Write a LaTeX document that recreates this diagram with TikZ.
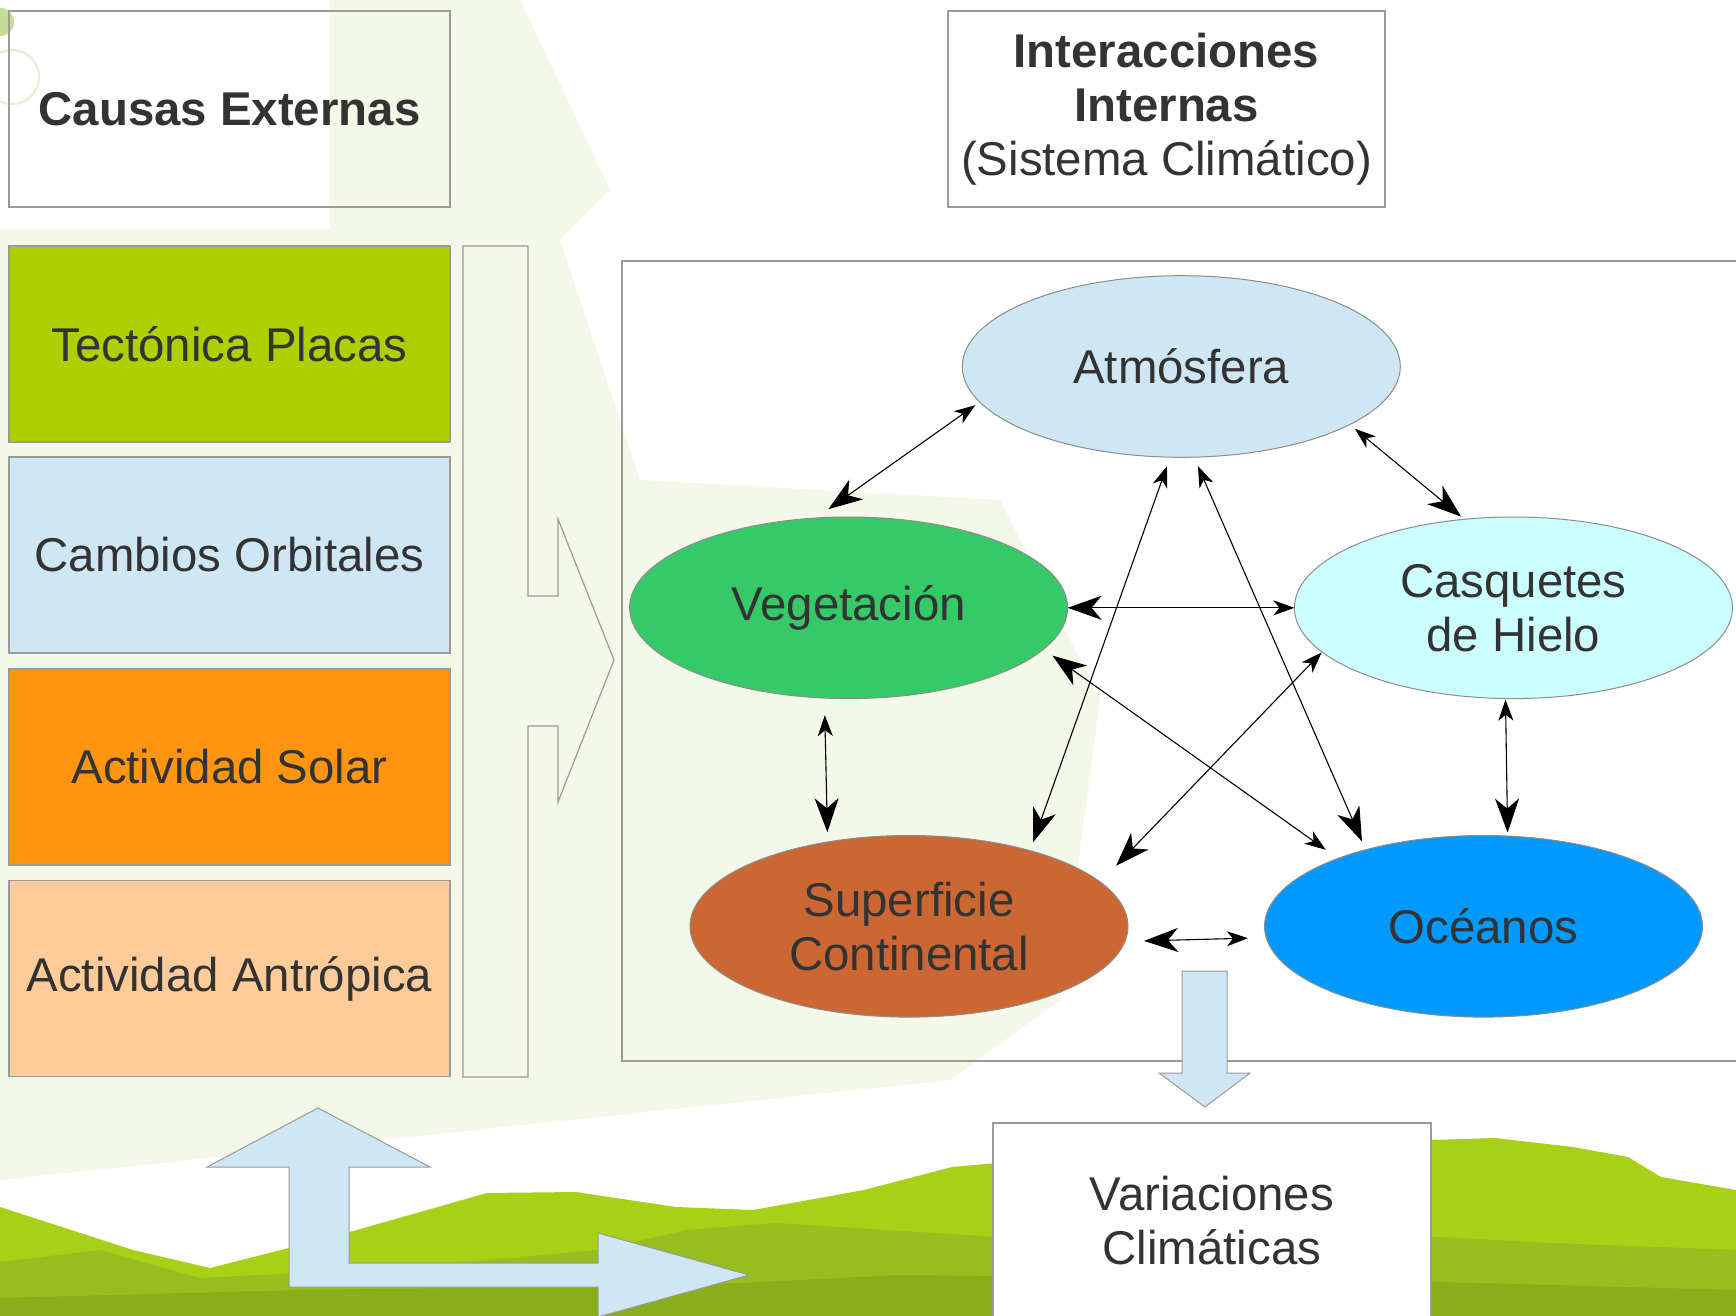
\documentclass[tikz,border=0pt]{standalone}
\usepackage{fontspec}
\setmainfont{Liberation Sans}
\usetikzlibrary{shapes.geometric,arrows.meta}
\definecolor{txt}{HTML}{333333}
\definecolor{boxgray}{HTML}{9A9A9A}
\definecolor{ellgray}{HTML}{8C8C8C}
\definecolor{paleg}{HTML}{F3F8E8}
\definecolor{hillA}{HTML}{A7D016}
\definecolor{hillB}{HTML}{98BD1E}
\definecolor{hillC}{HTML}{8AAE19}
\definecolor{cTect}{HTML}{AECF00}
\definecolor{cBlue}{HTML}{CFE7F5}
\definecolor{cSolar}{HTML}{FF950E}
\definecolor{cAntr}{HTML}{FFCC99}
\definecolor{cVeg}{HTML}{35C967}
\definecolor{cCasq}{HTML}{CCFFFF}
\definecolor{cSup}{HTML}{CC6633}
\definecolor{cOce}{HTML}{0099FF}
\tikzset{
  bigtip/.tip={Stealth[length=17pt,width=12pt,inset=5pt]},
  smalltip/.tip={Stealth[length=10.5pt,width=7.5pt,inset=3pt]},
  every node/.style={font=\fontsize{23.7}{27}\selectfont, text=txt},
  box/.style={rectangle, draw=boxgray, line width=0.6pt, minimum width=220.5pt,
    minimum height=98pt, inner sep=0pt, outer sep=0pt, align=center},
  ell/.style={ellipse, draw=ellgray, line width=0.5pt, minimum width=219pt,
    minimum height=90.8pt, inner sep=0pt, outer sep=0pt, align=center},
  conn/.style={line width=0.55pt, draw=black},
  outl/.style={draw=boxgray, line width=0.6pt},
  bluearrow/.style={fill=cBlue, draw=boxgray, line width=0.5pt},
}
\begin{document}
\begin{tikzpicture}[x=0.5pt,y=-0.5pt]
\path[use as bounding box] (0,0) rectangle (1736,1316);
\clip (0,0) rectangle (1736,1316);
% background
\fill[white] (0,0) rectangle (1736,1316);
\fill[paleg] (0,230) -- (330,230) -- (330,0) -- (520,0) -- (610,190) -- (560,240)
  -- (640,480) -- (1000,500) -- (1100,700) -- (1060,1000) -- (950,1080)
  -- (0,1180) -- cycle;
\fill[hillA] (0,1207) -- (133,1250) -- (210,1268) -- (332,1237) -- (487,1193)
  -- (576,1192) -- (676,1207) -- (753,1210) -- (864,1190) -- (952,1167)
  -- (997,1163) -- (1432,1140) -- (1495,1138) -- (1573,1147) -- (1628,1157)
  -- (1661,1177) -- (1736,1190) -- (1736,1316) -- (0,1316) -- cycle;
\fill[hillB] (0,1262) -- (100,1250) -- (200,1278) -- (400,1268) -- (598,1250)
  -- (687,1230) -- (775,1223) -- (886,1230) -- (997,1237) -- (1440,1237)
  -- (1550,1243) -- (1736,1250) -- (1736,1316) -- (0,1316) -- cycle;
\fill[hillC] (0,1298) -- (300,1290) -- (700,1285) -- (900,1275) -- (1440,1282)
  -- (1736,1290) -- (1736,1316) -- (0,1316) -- cycle;
\fill[color={rgb,255:red,196;green,220;blue,150}] (0,22) circle (14);
\draw[color={rgb,255:red,226;green,238;blue,205}, line width=1pt] (12,77) circle (27);
% left boxes
\node[box] (causas) at (229.5,109) {\textbf{Causas Externas}};
\node[box, fill=cTect] (tect) at (229.5,344) {Tectónica Placas};
\node[box, fill=cBlue] (orb) at (229.5,555) {Cambios Orbitales};
\node[box, fill=cSolar] (solar) at (229.5,767) {Actividad Solar};
\node[box, fill=cAntr] (antr) at (229.5,978.5) {Actividad Antrópica};
\node[box, minimum width=218.5pt] (inter) at (1166.5,109)
  {\textbf{Interacciones}\\\textbf{Internas}\\(Sistema Climático)};
% white block arrow
\draw[outl] (463,246) -- (528,246) -- (528,596) -- (558,596) -- (558,519)
  -- (614,660) -- (558,802) -- (558,726) -- (528,726) -- (528,1077)
  -- (463,1077) -- cycle;
% container
\draw[outl] (622,261) rectangle (1780,1061);
% ellipses
\node[ell, fill=cBlue] (atm) at (1181.3,366.5) {Atmósfera};
\node[ell, fill=cVeg] (veg) at (848.6,607.8) {Vegetación};
\node[ell, fill=cCasq] (casq) at (1513.4,607.8) {Casquetes\\de Hielo};
\node[ell, fill=cSup] (sup) at (909,926.3) {Superficie\\Continental};
\node[ell, fill=cOce] (oce) at (1483.5,926.3) {Océanos};
% connectors
\draw[conn, smalltip-bigtip, shorten <=2.75pt, shorten >=7.65pt] (atm.190.4) -- (veg.110.2);
\draw[conn, smalltip-bigtip, shorten <=3.35pt, shorten >=2.15pt] (atm.341.3) -- (casq.119.3);
\draw[conn, smalltip-bigtip, shorten <=4.75pt, shorten >=4.4pt] (atm.263) -- (sup.32.7);
\draw[conn, smalltip-bigtip, shorten <=4.9pt, shorten >=4.6pt] (atm.278) -- (oce.147.1);
\draw[conn, bigtip-smalltip] (veg.east) -- (casq.west);
\draw[conn, bigtip-smalltip, shorten <=5.55pt, shorten >=7.5pt] (veg.348.3) -- (oce.155.2);
\draw[conn, smalltip-bigtip, shorten <=0.35pt, shorten >=11.4pt] (casq.193.7) -- (sup.13.6);
\draw[conn, smalltip-bigtip, shorten <=8.55pt, shorten >=4.9pt] (veg.255.9) -- (sup.134.7);
\draw[conn, smalltip-bigtip, shorten <=0.55pt, shorten >=1.75pt] (casq.265.8) -- (oce.75.5);
\draw[conn, bigtip-smalltip, shorten <=9.55pt, shorten >=9.15pt] (sup.356.2) -- (oce.183.8);
% light blue arrows
\draw[bluearrow] (1182,971) -- (1227,971) -- (1227,1073) -- (1250,1073) -- (1205,1107)
  -- (1159,1073) -- (1182,1073) -- cycle;
\draw[bluearrow] (318,1108) -- (430,1167) -- (349,1167) -- (349,1263) -- (598,1263)
  -- (598,1233) -- (749,1275) -- (598,1317) -- (598,1287) -- (289,1287) -- (289,1167)
  -- (207,1167) -- cycle;
% result box
\node[box, fill=white, minimum width=219pt] (var) at (1212,1221) {Variaciones\\Climáticas};
\end{tikzpicture}
\end{document}
